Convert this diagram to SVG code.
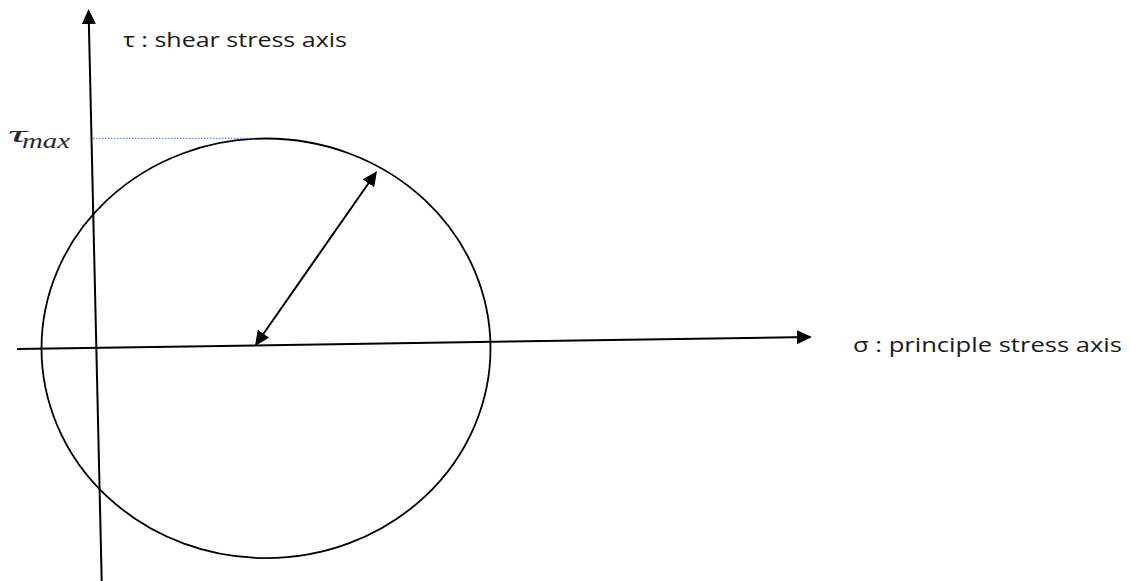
<svg xmlns="http://www.w3.org/2000/svg" width="1131" height="581" viewBox="0 0 1131 581">
  <style>
    .line { stroke: #000; stroke-width: 2; fill: none; }
    .circle { stroke: #000; stroke-width: 1.8; fill: none; }
    .lbl { font-family: "Open Sans", "Liberation Sans", sans-serif; font-size: 20px; fill: #1a1a1a; }
    .tm { font-family: "Liberation Serif", serif; font-style: italic; fill: #2a2a2a; }
    .guide { stroke: #4472C4; stroke-width: 1; stroke-dasharray: 1.5 1.5; fill: none; }
  </style>
  <defs>
    <marker id="ah" viewBox="0 0 15 14" markerWidth="15" markerHeight="14" refX="12" refY="7" orient="auto-start-reverse" markerUnits="userSpaceOnUse">
      <path d="M0,0 L15,7 L0,14 Z" fill="#000"/>
    </marker>
  </defs>
  <rect width="1131" height="581" fill="#fff"/>

  <g id="mohr-circle">
    <ellipse class="circle" cx="266" cy="348.3" rx="224.5" ry="209.8"/>
  </g>

  <g id="connectors">
    <line id="tau-axis" class="line" x1="101.7" y1="581" x2="88.6" y2="12" marker-end="url(#ah)"/>
    <line id="sigma-axis" class="line" x1="17" y1="349" x2="809" y2="337" marker-end="url(#ah)"/>
    <line id="radius" class="line" x1="256.7" y1="343.5" x2="375.3" y2="173.5" marker-start="url(#ah)" marker-end="url(#ah)"/>
    <line id="tmax-guide" class="guide" x1="93" y1="138.3" x2="254" y2="138.3"/>
  </g>

  <g id="tau-label">
    <text class="lbl" x="123" y="47" textLength="224" lengthAdjust="spacingAndGlyphs">τ : shear stress axis</text>
  </g>
  <g id="sigma-label">
    <text class="lbl" x="853" y="352" textLength="269" lengthAdjust="spacingAndGlyphs">σ : principle stress axis</text>
  </g>
  <g id="tmax-label">
    <text class="tm" x="8" y="142" font-size="24" textLength="19" lengthAdjust="spacingAndGlyphs">τ</text>
    <text class="tm" x="22" y="148" font-size="20" textLength="48" lengthAdjust="spacingAndGlyphs">max</text>
  </g>
</svg>
